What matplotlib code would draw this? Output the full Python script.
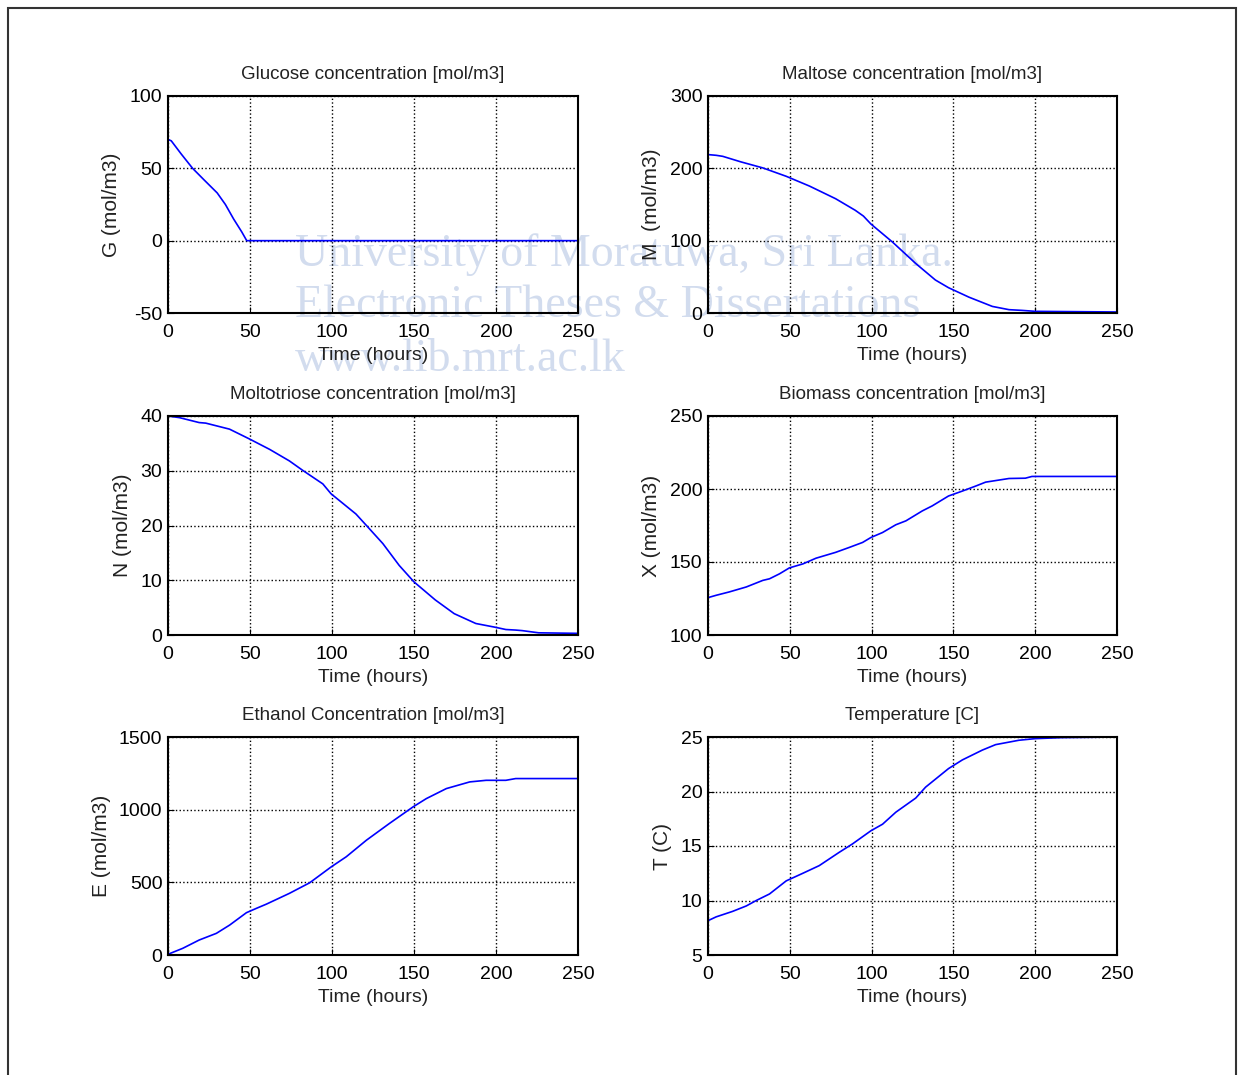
import matplotlib

matplotlib.use("Agg")

import matplotlib.pyplot as plt
from matplotlib.patches import Rectangle

# ---- data (time in hours) ----
glucose_t = [0, 2, 4, 8, 15, 22, 30, 35, 40, 45, 48, 250]
glucose_v = [70, 69, 66, 60, 50, 42, 33, 25, 15, 6, 0, 0]

maltose_t = [0, 5, 9, 20, 33.5, 47.8, 62, 78, 84, 90, 95, 99.6, 112.8, 127, 139,
             147, 159.5, 173.8, 184, 192, 200, 250]
maltose_v = [219, 218, 216.6, 209, 200.6, 189, 175.5, 158, 150, 142, 134, 123,
             98, 68.4, 45.6, 35, 21.9, 9.1, 4.6, 3.6, 2.3, 1.4]

triose_t = [0, 7, 19, 23, 37.5, 49.7, 62, 74, 82, 94.4, 99.4, 114.6, 120.7, 131,
            141, 150, 163, 174.5, 187.7, 199.8, 206, 212, 216, 226, 250]
triose_v = [40, 39.7, 38.8, 38.7, 37.6, 35.8, 33.9, 31.8, 30.1, 27.6, 25.8, 22.1,
            20.1, 16.7, 12.7, 9.7, 6.4, 3.9, 2.1, 1.4, 1.0, 0.9, 0.8, 0.4, 0.3]

biomass_t = [0, 5, 13, 23.4, 33.5, 37.6, 43.7, 49.8, 58, 66, 78, 86.4, 94.5, 99.6,
             106.7, 114.8, 121, 131, 137, 147, 155.5, 163.6, 169.7, 184, 194, 198, 250]
biomass_v = [125.6, 127.2, 129.5, 132.9, 137.4, 138.5, 141.9, 146, 148.7, 152.6,
             156.6, 160, 163.4, 166.8, 170.2, 175.5, 178.2, 185, 188.4, 195.2,
             198.6, 202, 204.7, 207.2, 207.4, 208.6, 208.6]

ethanol_t = [0, 9, 19, 29.5, 37.6, 47.8, 53.9, 60, 74, 86.4, 99.6, 108.7, 121, 135,
             149.4, 157.5, 169.7, 184, 194, 206, 212, 250]
ethanol_v = [5, 46, 103, 149, 206, 291, 321, 350, 424, 497, 607, 676, 790, 905,
             1019, 1076, 1145, 1191, 1202, 1202, 1214, 1214]

temp_t = [0, 5, 15, 23.4, 29.5, 37.6, 47.8, 58, 68, 80, 88.4, 99.6, 106.7, 114.8,
          127, 133, 147, 155.5, 167.7, 175.8, 190, 200, 216, 250]
temp_v = [8.15, 8.5, 9.0, 9.5, 10.0, 10.6, 11.8, 12.5, 13.2, 14.4, 15.2, 16.4, 17.0,
          18.1, 19.4, 20.4, 22.1, 22.9, 23.8, 24.3, 24.7, 24.85, 24.94, 25]

titles = [
    "Glucose concentration [mol/m3]",
    "Maltose concentration [mol/m3]",
    "Moltotriose concentration [mol/m3]",
    "Biomass concentration [mol/m3]",
    "Ethanol Concentration [mol/m3]",
    "Temperature [C]",
]
ylabels = ["G (mol/m3)", "M  (mol/m3)", "N (mol/m3)", "X (mol/m3)", "E (mol/m3)", "T (C)"]
ylims = [(-50, 100), (0, 300), (0, 40), (100, 250), (0, 1500), (5, 25)]
yticks = [
    [-50, 0, 50, 100],
    [0, 100, 200, 300],
    [0, 10, 20, 30, 40],
    [100, 150, 200, 250],
    [0, 500, 1000, 1500],
    [5, 10, 15, 20, 25],
]
series = [
    (glucose_t, glucose_v),
    (maltose_t, maltose_v),
    (triose_t, triose_v),
    (biomass_t, biomass_v),
    (ethanol_t, ethanol_v),
    (temp_t, temp_v),
]

SANS = ["Liberation Sans", "DejaVu Sans"]

plt.rcParams["axes.unicode_minus"] = False
plt.rcParams["font.family"] = SANS

W, H = 1238, 1075
fig = plt.figure(figsize=(W / 100, H / 100), dpi=100)

# page border
fig.patches.append(
    Rectangle((8 / W, -0.05), 1228 / W, 1.05 - 8 / H, transform=fig.transFigure,
              fill=False, edgecolor="#333333", linewidth=1.5)
)

# faint watermark, kept behind the axes
wm_kw = dict(family=["Liberation Serif", "DejaVu Serif"], color="#d2dcee",
             fontsize=33, ha="left", va="center", zorder=-1)
fig.text(295 / W, 1 - 255 / H, "University of Moratuwa, Sri Lanka.", **wm_kw)
fig.text(295 / W, 1 - 306 / H, "Electronic Theses & Dissertations", **wm_kw)
fig.text(295 / W, 1 - 360 / H, "www.lib.mrt.ac.lk", **wm_kw)

col_left = [168, 708]
col_width = [410, 409]
row_top = [96, 416, 737]
row_height = [217, 219, 218]

for i, ((t, v), title, ylab, ylim, yt) in enumerate(zip(series, titles, ylabels, ylims, yticks)):
    r, c = divmod(i, 2)
    ax = fig.add_axes([
        col_left[c] / W,
        1 - (row_top[r] + row_height[r]) / H,
        col_width[c] / W,
        row_height[r] / H,
    ])
    ax.patch.set_alpha(0)
    ax.plot(t, v, color="#0000ff", linewidth=1.2)
    ax.set_xlim(0, 250)
    ax.set_ylim(*ylim)
    ax.set_xticks([0, 50, 100, 150, 200, 250])
    ax.set_yticks(yt)
    ax.grid(True, color="black", linestyle=":", linewidth=1.0)
    ax.tick_params(direction="in", length=4, labelsize=14, colors="black", pad=4)
    ax.tick_params(axis="x", pad=8)
    for s in ax.spines.values():
        s.set_linewidth(1.5)
    ax.set_title(title, fontsize=13.5, color="#222222", pad=12)
    ax.set_xlabel("Time (hours)", fontsize=14, color="#222222", labelpad=4)
    ax.set_ylabel(ylab, fontsize=15, color="#222222", labelpad=6)

fig.savefig("out.png", dpi=100)
